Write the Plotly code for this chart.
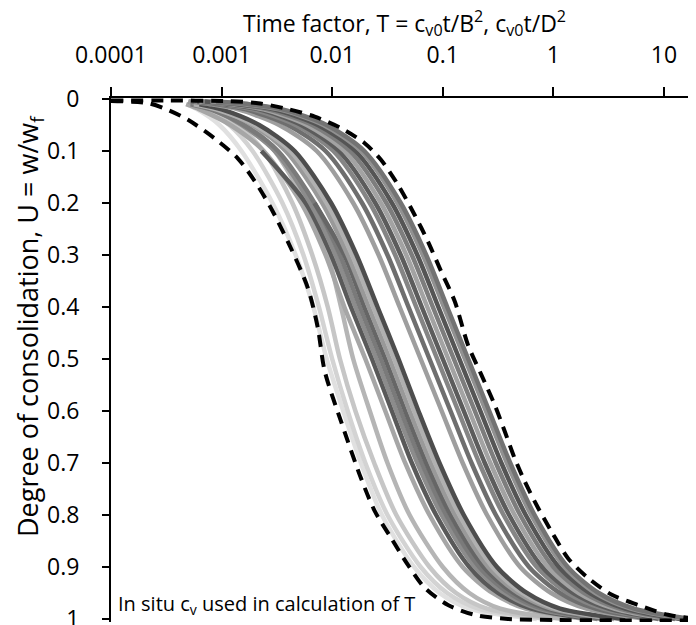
import plotly.graph_objects as go

# Degree of consolidation levels at which each grey curve is read
U_LEVELS = [0.005, 0.01, 0.02, 0.05, 0.1, 0.2, 0.3, 0.4, 0.5, 0.6, 0.7, 0.8, 0.9, 0.95, 0.98, 1.0]

# log10(T) for each measured curve at U_LEVELS (None = curve not yet started)
CURVES = [
    ("#e0e0e0", [None, -3.32, -3.22, -3.02, -2.82, -2.54, -2.33, -2.17, -2.05, -1.90, -1.74, -1.55, -1.26, -1.03, -0.76, -0.15]),
    ("#d3d3d3", [None, -3.30, -3.15, -2.93, -2.72, -2.45, -2.26, -2.12, -2.00, -1.86, -1.70, -1.50, -1.20, -0.96, -0.68, -0.05]),
    ("#c6c6c6", [None, -3.30, -3.10, -2.86, -2.62, -2.36, -2.18, -2.04, -1.93, -1.79, -1.62, -1.42, -1.12, -0.88, -0.60, 0.00]),
    ("#b5b5b5", [-3.30, -3.20, -3.02, -2.75, -2.52, -2.24, -2.04, -1.92, -1.81, -1.66, -1.50, -1.30, -1.00, -0.76, -0.48, 0.10]),
    ("#a6a6a6", [None, -3.32, -3.20, -2.92, -2.62, -2.28, -2.06, -1.89, -1.70, -1.52, -1.34, -1.12, -0.82, -0.55, -0.25, 0.30]),
    ("#595959", [None, None, None, None, -2.64, -2.24, -2.01, -1.83, -1.64, -1.46, -1.28, -1.06, -0.76, -0.50, -0.20, 0.35]),
    ("#8c8c8c", [-3.30, -3.22, -3.08, -2.82, -2.52, -2.20, -1.97, -1.79, -1.60, -1.42, -1.23, -1.01, -0.71, -0.44, -0.14, 0.40]),
    ("#7a7a7a", [None, -3.28, -3.10, -2.80, -2.49, -2.16, -1.93, -1.75, -1.56, -1.38, -1.19, -0.97, -0.67, -0.40, -0.10, 0.45]),
    ("#666666", [None, None, None, None, None, -2.16, -1.89, -1.71, -1.52, -1.34, -1.15, -0.93, -0.63, -0.36, -0.06, 0.50]),
    ("#999999", [-3.28, -3.18, -3.02, -2.72, -2.42, -2.09, -1.86, -1.67, -1.48, -1.30, -1.11, -0.89, -0.59, -0.32, -0.02, 0.55]),
    ("#b0b0b0", [None, -3.25, -3.05, -2.70, -2.38, -2.05, -1.82, -1.63, -1.44, -1.26, -1.07, -0.85, -0.55, -0.28, 0.02, 0.60]),
    ("#4d4d4d", [None, -3.20, -3.00, -2.66, -2.34, -2.01, -1.78, -1.59, -1.40, -1.22, -1.03, -0.81, -0.51, -0.24, 0.06, 0.65]),
    ("#9e9e9e", [-3.30, -3.10, -2.85, -2.48, -2.14, -1.81, -1.58, -1.39, -1.20, -1.01, -0.82, -0.60, -0.30, -0.02, 0.30, 0.85]),
    ("#6e6e6e", [-3.28, -3.05, -2.78, -2.40, -2.06, -1.73, -1.50, -1.31, -1.12, -0.93, -0.74, -0.52, -0.22, 0.06, 0.38, 0.90]),
    ("#858585", [-3.25, -3.00, -2.72, -2.33, -1.99, -1.66, -1.43, -1.24, -1.05, -0.86, -0.67, -0.45, -0.15, 0.13, 0.45, 0.95]),
    ("#5c5c5c", [-3.22, -2.96, -2.66, -2.28, -1.94, -1.61, -1.38, -1.19, -1.00, -0.81, -0.62, -0.40, -0.10, 0.18, 0.50, 1.00]),
    ("#a3a3a3", [-3.20, -2.92, -2.62, -2.23, -1.89, -1.56, -1.33, -1.14, -0.95, -0.76, -0.57, -0.35, -0.05, 0.23, 0.55, 1.05]),
    ("#7d7d7d", [-3.18, -2.88, -2.58, -2.18, -1.84, -1.51, -1.28, -1.09, -0.90, -0.71, -0.52, -0.30, 0.00, 0.28, 0.60, 1.10]),
    ("#555555", [-3.15, -2.85, -2.53, -2.13, -1.79, -1.46, -1.23, -1.04, -0.85, -0.66, -0.47, -0.25, 0.05, 0.33, 0.65, 1.15]),
    ("#919191", [-3.10, -2.80, -2.48, -2.08, -1.74, -1.41, -1.18, -0.99, -0.80, -0.61, -0.42, -0.20, 0.10, 0.38, 0.70, 1.20]),
    ("#737373", [-3.05, -2.75, -2.45, -2.05, -1.71, -1.38, -1.15, -0.96, -0.77, -0.58, -0.39, -0.17, 0.13, 0.41, 0.73, 1.25]),
]

# Dashed envelope curves: log10(T) and U
LOWER_LOGT = [-4.0, -3.665, -3.485, -3.304, -3.062, -2.854, -2.70, -2.553, -2.373, -2.219, -2.13,
              -2.068, -1.92, -1.74, -1.616, -1.468, -1.315, -1.164, -0.953, -0.712, -0.41, 0.04, 1.362]
LOWER_U = [0.004, 0.008, 0.021, 0.040, 0.076, 0.114, 0.158, 0.210, 0.287, 0.364, 0.44,
           0.523, 0.620, 0.729, 0.792, 0.844, 0.896, 0.940, 0.973, 0.992, 1.0, 1.002, 1.003]
UPPER_LOGT = [-4.0, -3.5, -2.942, -2.671, -2.43, -2.158, -1.92, -1.706, -1.559, -1.405, -1.254,
              -1.134, -1.016, -0.892, -0.772, -0.652, -0.531, -0.44, -0.35, -0.26, -0.139, -0.019,
              0.132, 0.313, 0.524, 0.765, 1.036, 1.362]
UPPER_U = [0.003, 0.003, 0.004, 0.008, 0.018, 0.034, 0.056, 0.085, 0.117, 0.165, 0.223,
           0.274, 0.331, 0.389, 0.473, 0.530, 0.588, 0.639, 0.691, 0.735, 0.786, 0.831,
           0.883, 0.921, 0.953, 0.973, 0.992, 1.001]

X_TICKS = [0.0001, 0.001, 0.01, 0.1, 1, 10]
X_TICK_TEXT = ["0.0001", "0.001", "0.01", "0.1", "1", "10"]
Y_TICKS = [0, 0.1, 0.2, 0.3, 0.4, 0.5, 0.6, 0.7, 0.8, 0.9, 1]
Y_TICK_TEXT = ["0", "0.1", "0.2", "0.3", "0.4", "0.5", "0.6", "0.7", "0.8", "0.9", "1"]

FONT = "Open Sans"
TOP, BOTTOM, PLOT_H = 90, 11, 524


def py(p):
    """pixel row -> paper y"""
    return (TOP + PLOT_H - p) / PLOT_H


def px(p):
    """pixel column -> paper x"""
    return (p - 103) / 593


fig = go.Figure()
for color, logts in CURVES:
    xs = [10 ** v for v in logts if v is not None]
    ys = [u for u, v in zip(U_LEVELS, logts) if v is not None]
    fig.add_trace(go.Scatter(x=xs, y=ys, mode="lines",
                             line=dict(color=color, width=4.5, shape="spline", smoothing=0.8),
                             hoverinfo="skip", showlegend=False))

for lx, ly in ((LOWER_LOGT, LOWER_U), (UPPER_LOGT, UPPER_U)):
    fig.add_trace(go.Scatter(x=[10 ** v for v in lx], y=ly, mode="lines",
                             line=dict(color="black", width=4, dash="12px,8px", shape="spline", smoothing=0.8),
                             hoverinfo="skip", showlegend=False))

fig.update_layout(
    width=696, height=625,
    margin=dict(l=103, r=0, t=TOP, b=BOTTOM),
    plot_bgcolor="white", paper_bgcolor="white",
    font=dict(family=FONT, size=23, color="black"),
    xaxis=dict(type="log", side="top", range=[-4, 1.362],
               tickvals=X_TICKS, ticktext=X_TICK_TEXT,
               ticks="outside", ticklen=9, tickwidth=2, tickcolor="black",
               showline=True, linecolor="black", linewidth=2,
               showgrid=False, zeroline=False, ticklabelstandoff=15,
               ticklabeloverflow="allow",
               tickfont=dict(family=FONT, size=23)),
    yaxis=dict(range=[1.0058, -0.0019],
               tickvals=Y_TICKS, ticktext=Y_TICK_TEXT,
               ticks="outside", ticklen=7, tickwidth=2, tickcolor="black",
               showline=True, linecolor="black", linewidth=2,
               showgrid=False, zeroline=False, ticklabelstandoff=18,
               ticklabeloverflow="allow",
               tickfont=dict(family=FONT, size=23)),
    annotations=[
        dict(text="Time factor, T = c<sub>v0</sub>t/B<sup>2</sup>, c<sub>v0</sub>t/D<sup>2</sup>",
             xref="paper", yref="paper", x=px(396), y=py(15),
             xanchor="center", yanchor="middle", showarrow=False,
             font=dict(family=FONT, size=23)),
        dict(text="Degree of consolidation, U = w/w<sub>f</sub>",
             xref="paper", yref="paper", x=px(21), y=py(318), textangle=-90,
             xanchor="center", yanchor="middle", showarrow=False,
             font=dict(family=FONT, size=27)),
        dict(text="In situ c<sub>v</sub> used in calculation of T",
             xref="paper", yref="paper", x=px(108), y=py(596),
             xanchor="left", yanchor="middle", showarrow=False,
             font=dict(family=FONT, size=20)),
    ],
)

fig.write_html("out.html")
